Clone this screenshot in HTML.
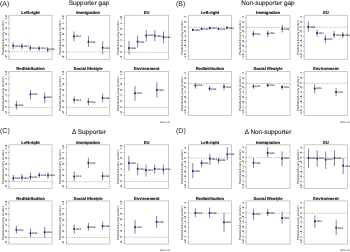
<!DOCTYPE html><html><head><meta charset="utf-8"><style>html,body{margin:0;padding:0;background:#fff;width:350px;height:252px;overflow:hidden}svg{display:block;will-change:transform}text{font-family:"Liberation Sans", sans-serif;text-rendering:geometricPrecision}</style></head><body>
<svg width="350" height="252" viewBox="0 0 350 252">
<rect x="0" y="0" width="350" height="252" fill="#fff"/>
<text x="0.00" y="6.00" font-size="7.0" fill="#222">(A)</text>
<text x="89.00" y="4.90" font-size="6.4" fill="#222" stroke="#222" stroke-width="0.1" text-anchor="middle">Supporter gap</text>
<text x="170.20" y="122.50" font-size="2.7" fill="#3a3a3a" text-anchor="end">95% CIs</text>
<text x="30.55" y="14.10" font-size="4.2" font-weight="bold" fill="#111" stroke="#111" stroke-width="0.12" text-anchor="middle">Left-right</text>
<rect x="9.00" y="15.30" width="43.10" height="44.00" fill="none" stroke="#bdbdbd" stroke-width="0.8"/>
<line x1="9.00" x2="52.10" y1="51.70" y2="51.70" stroke="#999" stroke-width="0.7" stroke-dasharray="1.25,1.25"/>
<line x1="8.10" x2="9.20" y1="17.10" y2="17.10" stroke="#666" stroke-width="0.55"/>
<text transform="translate(6.80,17.10) rotate(-90)" font-size="2.9" fill="#333" font-weight="bold" text-anchor="middle">1.2</text>
<line x1="8.10" x2="9.20" y1="22.80" y2="22.80" stroke="#666" stroke-width="0.55"/>
<text transform="translate(6.80,22.80) rotate(-90)" font-size="2.9" fill="#333" font-weight="bold" text-anchor="middle">1</text>
<line x1="8.10" x2="9.20" y1="28.50" y2="28.50" stroke="#666" stroke-width="0.55"/>
<text transform="translate(6.80,28.50) rotate(-90)" font-size="2.9" fill="#333" font-weight="bold" text-anchor="middle">.8</text>
<line x1="8.10" x2="9.20" y1="34.20" y2="34.20" stroke="#666" stroke-width="0.55"/>
<text transform="translate(6.80,34.20) rotate(-90)" font-size="2.9" fill="#333" font-weight="bold" text-anchor="middle">.6</text>
<line x1="8.10" x2="9.20" y1="39.90" y2="39.90" stroke="#666" stroke-width="0.55"/>
<text transform="translate(6.80,39.90) rotate(-90)" font-size="2.9" fill="#333" font-weight="bold" text-anchor="middle">.4</text>
<line x1="8.10" x2="9.20" y1="45.60" y2="45.60" stroke="#666" stroke-width="0.55"/>
<text transform="translate(6.80,45.60) rotate(-90)" font-size="2.9" fill="#333" font-weight="bold" text-anchor="middle">.2</text>
<line x1="8.10" x2="9.20" y1="51.30" y2="51.30" stroke="#666" stroke-width="0.55"/>
<text transform="translate(6.80,51.30) rotate(-90)" font-size="2.9" fill="#333" font-weight="bold" text-anchor="middle">0</text>
<line x1="8.10" x2="9.20" y1="57.00" y2="57.00" stroke="#666" stroke-width="0.55"/>
<text transform="translate(6.80,57.00) rotate(-90)" font-size="2.9" fill="#333" font-weight="bold" text-anchor="middle">-.2</text>
<text transform="translate(3.65,37.70) rotate(-90)" font-size="3.05" fill="#333" text-anchor="middle">Predicted Δ party position</text>
<line x1="13.20" x2="13.20" y1="42.25" y2="49.25" stroke="#66667f" stroke-width="0.8"/>
<rect x="12.32" y="44.88" width="1.75" height="1.75" fill="#14149a"/>
<text x="14.70" y="46.60" font-size="2.4" fill="#333" font-weight="bold">2009</text>
<line x1="21.90" x2="21.90" y1="43.25" y2="49.25" stroke="#66667f" stroke-width="0.8"/>
<rect x="21.02" y="45.38" width="1.75" height="1.75" fill="#14149a"/>
<text x="23.40" y="47.10" font-size="2.4" fill="#333" font-weight="bold">2010</text>
<line x1="30.40" x2="30.40" y1="45.25" y2="50.75" stroke="#66667f" stroke-width="0.8"/>
<rect x="29.52" y="47.08" width="1.75" height="1.75" fill="#14149a"/>
<text x="31.90" y="48.80" font-size="2.4" fill="#333" font-weight="bold">2013</text>
<line x1="39.00" x2="39.00" y1="45.75" y2="50.75" stroke="#66667f" stroke-width="0.8"/>
<rect x="38.12" y="47.48" width="1.75" height="1.75" fill="#14149a"/>
<text x="40.50" y="49.20" font-size="2.4" fill="#333" font-weight="bold">2014</text>
<line x1="47.70" x2="47.70" y1="46.75" y2="52.25" stroke="#66667f" stroke-width="0.8"/>
<rect x="46.83" y="48.58" width="1.75" height="1.75" fill="#14149a"/>
<text x="49.20" y="50.30" font-size="2.4" fill="#333" font-weight="bold">2016</text>
<text x="88.15" y="14.10" font-size="4.2" font-weight="bold" fill="#111" stroke="#111" stroke-width="0.12" text-anchor="middle">Immigration</text>
<rect x="66.50" y="15.30" width="43.30" height="44.00" fill="none" stroke="#bdbdbd" stroke-width="0.8"/>
<line x1="66.50" x2="109.80" y1="52.00" y2="52.00" stroke="#999" stroke-width="0.7" stroke-dasharray="1.25,1.25"/>
<line x1="65.60" x2="66.70" y1="17.40" y2="17.40" stroke="#666" stroke-width="0.55"/>
<text transform="translate(64.30,17.40) rotate(-90)" font-size="2.9" fill="#333" font-weight="bold" text-anchor="middle">1.2</text>
<line x1="65.60" x2="66.70" y1="23.10" y2="23.10" stroke="#666" stroke-width="0.55"/>
<text transform="translate(64.30,23.10) rotate(-90)" font-size="2.9" fill="#333" font-weight="bold" text-anchor="middle">1</text>
<line x1="65.60" x2="66.70" y1="28.80" y2="28.80" stroke="#666" stroke-width="0.55"/>
<text transform="translate(64.30,28.80) rotate(-90)" font-size="2.9" fill="#333" font-weight="bold" text-anchor="middle">.8</text>
<line x1="65.60" x2="66.70" y1="34.50" y2="34.50" stroke="#666" stroke-width="0.55"/>
<text transform="translate(64.30,34.50) rotate(-90)" font-size="2.9" fill="#333" font-weight="bold" text-anchor="middle">.6</text>
<line x1="65.60" x2="66.70" y1="40.20" y2="40.20" stroke="#666" stroke-width="0.55"/>
<text transform="translate(64.30,40.20) rotate(-90)" font-size="2.9" fill="#333" font-weight="bold" text-anchor="middle">.4</text>
<line x1="65.60" x2="66.70" y1="45.90" y2="45.90" stroke="#666" stroke-width="0.55"/>
<text transform="translate(64.30,45.90) rotate(-90)" font-size="2.9" fill="#333" font-weight="bold" text-anchor="middle">.2</text>
<line x1="65.60" x2="66.70" y1="51.60" y2="51.60" stroke="#666" stroke-width="0.55"/>
<text transform="translate(64.30,51.60) rotate(-90)" font-size="2.9" fill="#333" font-weight="bold" text-anchor="middle">0</text>
<line x1="65.60" x2="66.70" y1="57.30" y2="57.30" stroke="#666" stroke-width="0.55"/>
<text transform="translate(64.30,57.30) rotate(-90)" font-size="2.9" fill="#333" font-weight="bold" text-anchor="middle">-.2</text>
<text transform="translate(61.15,37.70) rotate(-90)" font-size="3.05" fill="#333" text-anchor="middle">Predicted Δ party position</text>
<line x1="74.00" x2="74.00" y1="31.45" y2="41.25" stroke="#66667f" stroke-width="0.8"/>
<rect x="73.12" y="35.58" width="1.75" height="1.75" fill="#14149a"/>
<text x="75.50" y="37.30" font-size="2.4" fill="#333" font-weight="bold">2014</text>
<line x1="88.50" x2="88.50" y1="36.25" y2="46.75" stroke="#66667f" stroke-width="0.8"/>
<rect x="87.62" y="40.88" width="1.75" height="1.75" fill="#14149a"/>
<text x="90.00" y="42.60" font-size="2.4" fill="#333" font-weight="bold">2016</text>
<line x1="102.70" x2="102.70" y1="41.25" y2="54.25" stroke="#66667f" stroke-width="0.8"/>
<rect x="101.83" y="46.88" width="1.75" height="1.75" fill="#14149a"/>
<text x="104.20" y="48.60" font-size="2.4" fill="#333" font-weight="bold">2018</text>
<text x="146.60" y="14.10" font-size="4.2" font-weight="bold" fill="#111" stroke="#111" stroke-width="0.12" text-anchor="middle">EU</text>
<rect x="124.60" y="15.30" width="44.00" height="44.00" fill="none" stroke="#bdbdbd" stroke-width="0.8"/>
<line x1="124.60" x2="168.60" y1="52.40" y2="52.40" stroke="#999" stroke-width="0.7" stroke-dasharray="1.25,1.25"/>
<line x1="123.70" x2="124.80" y1="17.80" y2="17.80" stroke="#666" stroke-width="0.55"/>
<text transform="translate(122.40,17.80) rotate(-90)" font-size="2.9" fill="#333" font-weight="bold" text-anchor="middle">1.2</text>
<line x1="123.70" x2="124.80" y1="23.50" y2="23.50" stroke="#666" stroke-width="0.55"/>
<text transform="translate(122.40,23.50) rotate(-90)" font-size="2.9" fill="#333" font-weight="bold" text-anchor="middle">1</text>
<line x1="123.70" x2="124.80" y1="29.20" y2="29.20" stroke="#666" stroke-width="0.55"/>
<text transform="translate(122.40,29.20) rotate(-90)" font-size="2.9" fill="#333" font-weight="bold" text-anchor="middle">.8</text>
<line x1="123.70" x2="124.80" y1="34.90" y2="34.90" stroke="#666" stroke-width="0.55"/>
<text transform="translate(122.40,34.90) rotate(-90)" font-size="2.9" fill="#333" font-weight="bold" text-anchor="middle">.6</text>
<line x1="123.70" x2="124.80" y1="40.60" y2="40.60" stroke="#666" stroke-width="0.55"/>
<text transform="translate(122.40,40.60) rotate(-90)" font-size="2.9" fill="#333" font-weight="bold" text-anchor="middle">.4</text>
<line x1="123.70" x2="124.80" y1="46.30" y2="46.30" stroke="#666" stroke-width="0.55"/>
<text transform="translate(122.40,46.30) rotate(-90)" font-size="2.9" fill="#333" font-weight="bold" text-anchor="middle">.2</text>
<line x1="123.70" x2="124.80" y1="52.00" y2="52.00" stroke="#666" stroke-width="0.55"/>
<text transform="translate(122.40,52.00) rotate(-90)" font-size="2.9" fill="#333" font-weight="bold" text-anchor="middle">0</text>
<line x1="123.70" x2="124.80" y1="57.70" y2="57.70" stroke="#666" stroke-width="0.55"/>
<text transform="translate(122.40,57.70) rotate(-90)" font-size="2.9" fill="#333" font-weight="bold" text-anchor="middle">-.2</text>
<text transform="translate(119.25,37.70) rotate(-90)" font-size="3.05" fill="#333" text-anchor="middle">Predicted Δ party position</text>
<line x1="129.00" x2="129.00" y1="40.85" y2="54.65" stroke="#66667f" stroke-width="0.8"/>
<rect x="128.12" y="47.17" width="1.75" height="1.75" fill="#14149a"/>
<text x="130.50" y="48.90" font-size="2.4" fill="#333" font-weight="bold">2009</text>
<line x1="137.60" x2="137.60" y1="35.45" y2="47.45" stroke="#66667f" stroke-width="0.8"/>
<rect x="136.72" y="40.77" width="1.75" height="1.75" fill="#14149a"/>
<text x="139.10" y="42.50" font-size="2.4" fill="#333" font-weight="bold">2010</text>
<line x1="146.30" x2="146.30" y1="29.85" y2="41.25" stroke="#66667f" stroke-width="0.8"/>
<rect x="145.43" y="34.58" width="1.75" height="1.75" fill="#14149a"/>
<text x="147.80" y="36.30" font-size="2.4" fill="#333" font-weight="bold">2013</text>
<line x1="154.80" x2="154.80" y1="30.25" y2="41.25" stroke="#66667f" stroke-width="0.8"/>
<rect x="153.93" y="34.77" width="1.75" height="1.75" fill="#14149a"/>
<text x="156.30" y="36.50" font-size="2.4" fill="#333" font-weight="bold">2014</text>
<line x1="163.50" x2="163.50" y1="31.55" y2="43.25" stroke="#66667f" stroke-width="0.8"/>
<rect x="162.62" y="36.27" width="1.75" height="1.75" fill="#14149a"/>
<text x="165.00" y="38.00" font-size="2.4" fill="#333" font-weight="bold">2016</text>
<text x="30.55" y="70.40" font-size="4.2" font-weight="bold" fill="#111" stroke="#111" stroke-width="0.12" text-anchor="middle">Redistribution</text>
<rect x="9.00" y="71.60" width="43.10" height="43.80" fill="none" stroke="#bdbdbd" stroke-width="0.8"/>
<line x1="9.00" x2="52.10" y1="107.50" y2="107.50" stroke="#999" stroke-width="0.7" stroke-dasharray="1.25,1.25"/>
<line x1="8.10" x2="9.20" y1="72.90" y2="72.90" stroke="#666" stroke-width="0.55"/>
<text transform="translate(6.80,72.90) rotate(-90)" font-size="2.9" fill="#333" font-weight="bold" text-anchor="middle">1.2</text>
<line x1="8.10" x2="9.20" y1="78.60" y2="78.60" stroke="#666" stroke-width="0.55"/>
<text transform="translate(6.80,78.60) rotate(-90)" font-size="2.9" fill="#333" font-weight="bold" text-anchor="middle">1</text>
<line x1="8.10" x2="9.20" y1="84.30" y2="84.30" stroke="#666" stroke-width="0.55"/>
<text transform="translate(6.80,84.30) rotate(-90)" font-size="2.9" fill="#333" font-weight="bold" text-anchor="middle">.8</text>
<line x1="8.10" x2="9.20" y1="90.00" y2="90.00" stroke="#666" stroke-width="0.55"/>
<text transform="translate(6.80,90.00) rotate(-90)" font-size="2.9" fill="#333" font-weight="bold" text-anchor="middle">.6</text>
<line x1="8.10" x2="9.20" y1="95.70" y2="95.70" stroke="#666" stroke-width="0.55"/>
<text transform="translate(6.80,95.70) rotate(-90)" font-size="2.9" fill="#333" font-weight="bold" text-anchor="middle">.4</text>
<line x1="8.10" x2="9.20" y1="101.40" y2="101.40" stroke="#666" stroke-width="0.55"/>
<text transform="translate(6.80,101.40) rotate(-90)" font-size="2.9" fill="#333" font-weight="bold" text-anchor="middle">.2</text>
<line x1="8.10" x2="9.20" y1="107.10" y2="107.10" stroke="#666" stroke-width="0.55"/>
<text transform="translate(6.80,107.10) rotate(-90)" font-size="2.9" fill="#333" font-weight="bold" text-anchor="middle">0</text>
<line x1="8.10" x2="9.20" y1="112.80" y2="112.80" stroke="#666" stroke-width="0.55"/>
<text transform="translate(6.80,112.80) rotate(-90)" font-size="2.9" fill="#333" font-weight="bold" text-anchor="middle">-.2</text>
<text transform="translate(3.65,93.90) rotate(-90)" font-size="3.05" fill="#333" text-anchor="middle">Predicted Δ party position</text>
<line x1="16.40" x2="16.40" y1="100.85" y2="109.55" stroke="#66667f" stroke-width="0.8"/>
<rect x="15.52" y="104.38" width="1.75" height="1.75" fill="#14149a"/>
<text x="17.90" y="106.10" font-size="2.4" fill="#333" font-weight="bold">2014</text>
<line x1="30.50" x2="30.50" y1="89.95" y2="99.05" stroke="#66667f" stroke-width="0.8"/>
<rect x="29.62" y="93.38" width="1.75" height="1.75" fill="#14149a"/>
<text x="32.00" y="95.10" font-size="2.4" fill="#333" font-weight="bold">2016</text>
<line x1="44.70" x2="44.70" y1="92.55" y2="103.05" stroke="#66667f" stroke-width="0.8"/>
<rect x="43.83" y="96.67" width="1.75" height="1.75" fill="#14149a"/>
<text x="46.20" y="98.40" font-size="2.4" fill="#333" font-weight="bold">2018</text>
<text x="88.15" y="70.40" font-size="4.2" font-weight="bold" fill="#111" stroke="#111" stroke-width="0.12" text-anchor="middle">Social lifestyle</text>
<rect x="66.50" y="71.60" width="43.30" height="43.80" fill="none" stroke="#bdbdbd" stroke-width="0.8"/>
<line x1="66.50" x2="109.80" y1="107.50" y2="107.50" stroke="#999" stroke-width="0.7" stroke-dasharray="1.25,1.25"/>
<line x1="65.60" x2="66.70" y1="72.90" y2="72.90" stroke="#666" stroke-width="0.55"/>
<text transform="translate(64.30,72.90) rotate(-90)" font-size="2.9" fill="#333" font-weight="bold" text-anchor="middle">1.2</text>
<line x1="65.60" x2="66.70" y1="78.60" y2="78.60" stroke="#666" stroke-width="0.55"/>
<text transform="translate(64.30,78.60) rotate(-90)" font-size="2.9" fill="#333" font-weight="bold" text-anchor="middle">1</text>
<line x1="65.60" x2="66.70" y1="84.30" y2="84.30" stroke="#666" stroke-width="0.55"/>
<text transform="translate(64.30,84.30) rotate(-90)" font-size="2.9" fill="#333" font-weight="bold" text-anchor="middle">.8</text>
<line x1="65.60" x2="66.70" y1="90.00" y2="90.00" stroke="#666" stroke-width="0.55"/>
<text transform="translate(64.30,90.00) rotate(-90)" font-size="2.9" fill="#333" font-weight="bold" text-anchor="middle">.6</text>
<line x1="65.60" x2="66.70" y1="95.70" y2="95.70" stroke="#666" stroke-width="0.55"/>
<text transform="translate(64.30,95.70) rotate(-90)" font-size="2.9" fill="#333" font-weight="bold" text-anchor="middle">.4</text>
<line x1="65.60" x2="66.70" y1="101.40" y2="101.40" stroke="#666" stroke-width="0.55"/>
<text transform="translate(64.30,101.40) rotate(-90)" font-size="2.9" fill="#333" font-weight="bold" text-anchor="middle">.2</text>
<line x1="65.60" x2="66.70" y1="107.10" y2="107.10" stroke="#666" stroke-width="0.55"/>
<text transform="translate(64.30,107.10) rotate(-90)" font-size="2.9" fill="#333" font-weight="bold" text-anchor="middle">0</text>
<line x1="65.60" x2="66.70" y1="112.80" y2="112.80" stroke="#666" stroke-width="0.55"/>
<text transform="translate(64.30,112.80) rotate(-90)" font-size="2.9" fill="#333" font-weight="bold" text-anchor="middle">-.2</text>
<text transform="translate(61.15,93.90) rotate(-90)" font-size="3.05" fill="#333" text-anchor="middle">Predicted Δ party position</text>
<line x1="74.20" x2="74.20" y1="96.45" y2="103.45" stroke="#66667f" stroke-width="0.8"/>
<rect x="73.33" y="98.88" width="1.75" height="1.75" fill="#14149a"/>
<text x="75.70" y="100.60" font-size="2.4" fill="#333" font-weight="bold">2014</text>
<line x1="88.40" x2="88.40" y1="98.05" y2="105.65" stroke="#66667f" stroke-width="0.8"/>
<rect x="87.53" y="100.88" width="1.75" height="1.75" fill="#14149a"/>
<text x="89.90" y="102.60" font-size="2.4" fill="#333" font-weight="bold">2016</text>
<line x1="102.60" x2="102.60" y1="93.65" y2="102.35" stroke="#66667f" stroke-width="0.8"/>
<rect x="101.72" y="97.17" width="1.75" height="1.75" fill="#14149a"/>
<text x="104.10" y="98.90" font-size="2.4" fill="#333" font-weight="bold">2018</text>
<text x="146.60" y="70.40" font-size="4.2" font-weight="bold" fill="#111" stroke="#111" stroke-width="0.12" text-anchor="middle">Environment</text>
<rect x="124.60" y="71.60" width="44.00" height="43.80" fill="none" stroke="#bdbdbd" stroke-width="0.8"/>
<line x1="124.60" x2="168.60" y1="107.50" y2="107.50" stroke="#999" stroke-width="0.7" stroke-dasharray="1.25,1.25"/>
<line x1="123.70" x2="124.80" y1="72.90" y2="72.90" stroke="#666" stroke-width="0.55"/>
<text transform="translate(122.40,72.90) rotate(-90)" font-size="2.9" fill="#333" font-weight="bold" text-anchor="middle">1.2</text>
<line x1="123.70" x2="124.80" y1="78.60" y2="78.60" stroke="#666" stroke-width="0.55"/>
<text transform="translate(122.40,78.60) rotate(-90)" font-size="2.9" fill="#333" font-weight="bold" text-anchor="middle">1</text>
<line x1="123.70" x2="124.80" y1="84.30" y2="84.30" stroke="#666" stroke-width="0.55"/>
<text transform="translate(122.40,84.30) rotate(-90)" font-size="2.9" fill="#333" font-weight="bold" text-anchor="middle">.8</text>
<line x1="123.70" x2="124.80" y1="90.00" y2="90.00" stroke="#666" stroke-width="0.55"/>
<text transform="translate(122.40,90.00) rotate(-90)" font-size="2.9" fill="#333" font-weight="bold" text-anchor="middle">.6</text>
<line x1="123.70" x2="124.80" y1="95.70" y2="95.70" stroke="#666" stroke-width="0.55"/>
<text transform="translate(122.40,95.70) rotate(-90)" font-size="2.9" fill="#333" font-weight="bold" text-anchor="middle">.4</text>
<line x1="123.70" x2="124.80" y1="101.40" y2="101.40" stroke="#666" stroke-width="0.55"/>
<text transform="translate(122.40,101.40) rotate(-90)" font-size="2.9" fill="#333" font-weight="bold" text-anchor="middle">.2</text>
<line x1="123.70" x2="124.80" y1="107.10" y2="107.10" stroke="#666" stroke-width="0.55"/>
<text transform="translate(122.40,107.10) rotate(-90)" font-size="2.9" fill="#333" font-weight="bold" text-anchor="middle">0</text>
<line x1="123.70" x2="124.80" y1="112.80" y2="112.80" stroke="#666" stroke-width="0.55"/>
<text transform="translate(122.40,112.80) rotate(-90)" font-size="2.9" fill="#333" font-weight="bold" text-anchor="middle">-.2</text>
<text transform="translate(119.25,93.90) rotate(-90)" font-size="3.05" fill="#333" text-anchor="middle">Predicted Δ party position</text>
<line x1="135.00" x2="135.00" y1="85.95" y2="100.65" stroke="#66667f" stroke-width="0.8"/>
<rect x="134.12" y="92.38" width="1.75" height="1.75" fill="#14149a"/>
<text x="136.50" y="94.10" font-size="2.4" fill="#333" font-weight="bold">2016</text>
<line x1="156.90" x2="156.90" y1="82.25" y2="97.55" stroke="#66667f" stroke-width="0.8"/>
<rect x="156.03" y="89.08" width="1.75" height="1.75" fill="#14149a"/>
<text x="158.40" y="90.80" font-size="2.4" fill="#333" font-weight="bold">2018</text>
<text x="176.00" y="6.00" font-size="7.0" fill="#222">(B)</text>
<text x="268.00" y="4.90" font-size="6.4" fill="#222" stroke="#222" stroke-width="0.1" text-anchor="middle">Non-supporter gap</text>
<text x="350.50" y="122.50" font-size="2.7" fill="#3a3a3a" text-anchor="end">95% CIs</text>
<text x="210.00" y="14.10" font-size="4.2" font-weight="bold" fill="#111" stroke="#111" stroke-width="0.12" text-anchor="middle">Left-right</text>
<rect x="188.50" y="15.30" width="43.00" height="44.00" fill="none" stroke="#bdbdbd" stroke-width="0.8"/>
<line x1="188.50" x2="231.50" y1="27.30" y2="27.30" stroke="#999" stroke-width="0.7" stroke-dasharray="1.25,1.25"/>
<line x1="187.60" x2="188.70" y1="17.20" y2="17.20" stroke="#666" stroke-width="0.55"/>
<text transform="translate(186.30,17.20) rotate(-90)" font-size="2.9" fill="#333" font-weight="bold" text-anchor="middle">.4</text>
<line x1="187.60" x2="188.70" y1="22.05" y2="22.05" stroke="#666" stroke-width="0.55"/>
<text transform="translate(186.30,22.05) rotate(-90)" font-size="2.9" fill="#333" font-weight="bold" text-anchor="middle">.2</text>
<line x1="187.60" x2="188.70" y1="26.90" y2="26.90" stroke="#666" stroke-width="0.55"/>
<text transform="translate(186.30,26.90) rotate(-90)" font-size="2.9" fill="#333" font-weight="bold" text-anchor="middle">0</text>
<line x1="187.60" x2="188.70" y1="31.75" y2="31.75" stroke="#666" stroke-width="0.55"/>
<text transform="translate(186.30,31.75) rotate(-90)" font-size="2.9" fill="#333" font-weight="bold" text-anchor="middle">-.2</text>
<line x1="187.60" x2="188.70" y1="36.60" y2="36.60" stroke="#666" stroke-width="0.55"/>
<text transform="translate(186.30,36.60) rotate(-90)" font-size="2.9" fill="#333" font-weight="bold" text-anchor="middle">-.4</text>
<line x1="187.60" x2="188.70" y1="41.45" y2="41.45" stroke="#666" stroke-width="0.55"/>
<text transform="translate(186.30,41.45) rotate(-90)" font-size="2.9" fill="#333" font-weight="bold" text-anchor="middle">-.6</text>
<line x1="187.60" x2="188.70" y1="46.30" y2="46.30" stroke="#666" stroke-width="0.55"/>
<text transform="translate(186.30,46.30) rotate(-90)" font-size="2.9" fill="#333" font-weight="bold" text-anchor="middle">-.8</text>
<line x1="187.60" x2="188.70" y1="51.15" y2="51.15" stroke="#666" stroke-width="0.55"/>
<text transform="translate(186.30,51.15) rotate(-90)" font-size="2.9" fill="#333" font-weight="bold" text-anchor="middle">-1</text>
<line x1="187.60" x2="188.70" y1="56.00" y2="56.00" stroke="#666" stroke-width="0.55"/>
<text transform="translate(186.30,56.00) rotate(-90)" font-size="2.9" fill="#333" font-weight="bold" text-anchor="middle">-1.2</text>
<text transform="translate(183.15,37.70) rotate(-90)" font-size="3.05" fill="#333" text-anchor="middle">Predicted Δ party position</text>
<line x1="192.90" x2="192.90" y1="28.55" y2="31.15" stroke="#66667f" stroke-width="0.8"/>
<rect x="192.03" y="28.98" width="1.75" height="1.75" fill="#14149a"/>
<text x="194.40" y="30.70" font-size="2.4" fill="#333" font-weight="bold">2009</text>
<line x1="201.60" x2="201.60" y1="27.65" y2="30.05" stroke="#66667f" stroke-width="0.8"/>
<rect x="200.72" y="27.98" width="1.75" height="1.75" fill="#14149a"/>
<text x="203.10" y="29.70" font-size="2.4" fill="#333" font-weight="bold">2010</text>
<line x1="209.80" x2="209.80" y1="26.95" y2="29.35" stroke="#66667f" stroke-width="0.8"/>
<rect x="208.93" y="27.27" width="1.75" height="1.75" fill="#14149a"/>
<text x="211.30" y="29.00" font-size="2.4" fill="#333" font-weight="bold">2013</text>
<line x1="218.50" x2="218.50" y1="27.55" y2="30.15" stroke="#66667f" stroke-width="0.8"/>
<rect x="217.62" y="27.98" width="1.75" height="1.75" fill="#14149a"/>
<text x="220.00" y="29.70" font-size="2.4" fill="#333" font-weight="bold">2014</text>
<line x1="226.90" x2="226.90" y1="26.45" y2="29.05" stroke="#66667f" stroke-width="0.8"/>
<rect x="226.03" y="26.88" width="1.75" height="1.75" fill="#14149a"/>
<text x="228.40" y="28.60" font-size="2.4" fill="#333" font-weight="bold">2016</text>
<text x="268.05" y="14.10" font-size="4.2" font-weight="bold" fill="#111" stroke="#111" stroke-width="0.12" text-anchor="middle">Immigration</text>
<rect x="246.10" y="15.30" width="43.90" height="44.00" fill="none" stroke="#bdbdbd" stroke-width="0.8"/>
<line x1="246.10" x2="290.00" y1="27.50" y2="27.50" stroke="#999" stroke-width="0.7" stroke-dasharray="1.25,1.25"/>
<line x1="245.20" x2="246.30" y1="17.40" y2="17.40" stroke="#666" stroke-width="0.55"/>
<text transform="translate(243.90,17.40) rotate(-90)" font-size="2.9" fill="#333" font-weight="bold" text-anchor="middle">.4</text>
<line x1="245.20" x2="246.30" y1="22.25" y2="22.25" stroke="#666" stroke-width="0.55"/>
<text transform="translate(243.90,22.25) rotate(-90)" font-size="2.9" fill="#333" font-weight="bold" text-anchor="middle">.2</text>
<line x1="245.20" x2="246.30" y1="27.10" y2="27.10" stroke="#666" stroke-width="0.55"/>
<text transform="translate(243.90,27.10) rotate(-90)" font-size="2.9" fill="#333" font-weight="bold" text-anchor="middle">0</text>
<line x1="245.20" x2="246.30" y1="31.95" y2="31.95" stroke="#666" stroke-width="0.55"/>
<text transform="translate(243.90,31.95) rotate(-90)" font-size="2.9" fill="#333" font-weight="bold" text-anchor="middle">-.2</text>
<line x1="245.20" x2="246.30" y1="36.80" y2="36.80" stroke="#666" stroke-width="0.55"/>
<text transform="translate(243.90,36.80) rotate(-90)" font-size="2.9" fill="#333" font-weight="bold" text-anchor="middle">-.4</text>
<line x1="245.20" x2="246.30" y1="41.65" y2="41.65" stroke="#666" stroke-width="0.55"/>
<text transform="translate(243.90,41.65) rotate(-90)" font-size="2.9" fill="#333" font-weight="bold" text-anchor="middle">-.6</text>
<line x1="245.20" x2="246.30" y1="46.50" y2="46.50" stroke="#666" stroke-width="0.55"/>
<text transform="translate(243.90,46.50) rotate(-90)" font-size="2.9" fill="#333" font-weight="bold" text-anchor="middle">-.8</text>
<line x1="245.20" x2="246.30" y1="51.35" y2="51.35" stroke="#666" stroke-width="0.55"/>
<text transform="translate(243.90,51.35) rotate(-90)" font-size="2.9" fill="#333" font-weight="bold" text-anchor="middle">-1</text>
<line x1="245.20" x2="246.30" y1="56.20" y2="56.20" stroke="#666" stroke-width="0.55"/>
<text transform="translate(243.90,56.20) rotate(-90)" font-size="2.9" fill="#333" font-weight="bold" text-anchor="middle">-1.2</text>
<text transform="translate(240.75,37.70) rotate(-90)" font-size="3.05" fill="#333" text-anchor="middle">Predicted Δ party position</text>
<line x1="253.40" x2="253.40" y1="30.85" y2="37.05" stroke="#66667f" stroke-width="0.8"/>
<rect x="252.53" y="33.08" width="1.75" height="1.75" fill="#14149a"/>
<text x="254.90" y="34.80" font-size="2.4" fill="#333" font-weight="bold">2014</text>
<line x1="267.80" x2="267.80" y1="30.25" y2="37.05" stroke="#66667f" stroke-width="0.8"/>
<rect x="266.93" y="32.67" width="1.75" height="1.75" fill="#14149a"/>
<text x="269.30" y="34.40" font-size="2.4" fill="#333" font-weight="bold">2016</text>
<line x1="282.30" x2="282.30" y1="25.05" y2="32.55" stroke="#66667f" stroke-width="0.8"/>
<rect x="281.43" y="27.98" width="1.75" height="1.75" fill="#14149a"/>
<text x="283.80" y="29.70" font-size="2.4" fill="#333" font-weight="bold">2018</text>
<text x="325.80" y="14.10" font-size="4.2" font-weight="bold" fill="#111" stroke="#111" stroke-width="0.12" text-anchor="middle">EU</text>
<rect x="304.20" y="15.30" width="43.20" height="44.00" fill="none" stroke="#bdbdbd" stroke-width="0.8"/>
<line x1="304.20" x2="347.40" y1="27.30" y2="27.30" stroke="#999" stroke-width="0.7" stroke-dasharray="1.25,1.25"/>
<line x1="303.30" x2="304.40" y1="17.20" y2="17.20" stroke="#666" stroke-width="0.55"/>
<text transform="translate(302.00,17.20) rotate(-90)" font-size="2.9" fill="#333" font-weight="bold" text-anchor="middle">.4</text>
<line x1="303.30" x2="304.40" y1="22.05" y2="22.05" stroke="#666" stroke-width="0.55"/>
<text transform="translate(302.00,22.05) rotate(-90)" font-size="2.9" fill="#333" font-weight="bold" text-anchor="middle">.2</text>
<line x1="303.30" x2="304.40" y1="26.90" y2="26.90" stroke="#666" stroke-width="0.55"/>
<text transform="translate(302.00,26.90) rotate(-90)" font-size="2.9" fill="#333" font-weight="bold" text-anchor="middle">0</text>
<line x1="303.30" x2="304.40" y1="31.75" y2="31.75" stroke="#666" stroke-width="0.55"/>
<text transform="translate(302.00,31.75) rotate(-90)" font-size="2.9" fill="#333" font-weight="bold" text-anchor="middle">-.2</text>
<line x1="303.30" x2="304.40" y1="36.60" y2="36.60" stroke="#666" stroke-width="0.55"/>
<text transform="translate(302.00,36.60) rotate(-90)" font-size="2.9" fill="#333" font-weight="bold" text-anchor="middle">-.4</text>
<line x1="303.30" x2="304.40" y1="41.45" y2="41.45" stroke="#666" stroke-width="0.55"/>
<text transform="translate(302.00,41.45) rotate(-90)" font-size="2.9" fill="#333" font-weight="bold" text-anchor="middle">-.6</text>
<line x1="303.30" x2="304.40" y1="46.30" y2="46.30" stroke="#666" stroke-width="0.55"/>
<text transform="translate(302.00,46.30) rotate(-90)" font-size="2.9" fill="#333" font-weight="bold" text-anchor="middle">-.8</text>
<line x1="303.30" x2="304.40" y1="51.15" y2="51.15" stroke="#666" stroke-width="0.55"/>
<text transform="translate(302.00,51.15) rotate(-90)" font-size="2.9" fill="#333" font-weight="bold" text-anchor="middle">-1</text>
<line x1="303.30" x2="304.40" y1="56.00" y2="56.00" stroke="#666" stroke-width="0.55"/>
<text transform="translate(302.00,56.00) rotate(-90)" font-size="2.9" fill="#333" font-weight="bold" text-anchor="middle">-1.2</text>
<text transform="translate(298.85,37.70) rotate(-90)" font-size="3.05" fill="#333" text-anchor="middle">Predicted Δ party position</text>
<line x1="308.30" x2="308.30" y1="21.55" y2="31.55" stroke="#66667f" stroke-width="0.8"/>
<rect x="307.43" y="25.88" width="1.75" height="1.75" fill="#14149a"/>
<text x="309.80" y="27.60" font-size="2.4" fill="#333" font-weight="bold">2009</text>
<line x1="317.00" x2="317.00" y1="29.85" y2="36.65" stroke="#66667f" stroke-width="0.8"/>
<rect x="316.12" y="32.08" width="1.75" height="1.75" fill="#14149a"/>
<text x="318.50" y="33.80" font-size="2.4" fill="#333" font-weight="bold">2010</text>
<line x1="325.40" x2="325.40" y1="35.05" y2="43.25" stroke="#66667f" stroke-width="0.8"/>
<rect x="324.52" y="38.27" width="1.75" height="1.75" fill="#14149a"/>
<text x="326.90" y="40.00" font-size="2.4" fill="#333" font-weight="bold">2013</text>
<line x1="334.10" x2="334.10" y1="30.85" y2="38.15" stroke="#66667f" stroke-width="0.8"/>
<rect x="333.23" y="33.77" width="1.75" height="1.75" fill="#14149a"/>
<text x="335.60" y="35.50" font-size="2.4" fill="#333" font-weight="bold">2014</text>
<line x1="342.80" x2="342.80" y1="31.95" y2="38.15" stroke="#66667f" stroke-width="0.8"/>
<rect x="341.93" y="34.17" width="1.75" height="1.75" fill="#14149a"/>
<text x="344.30" y="35.90" font-size="2.4" fill="#333" font-weight="bold">2016</text>
<text x="210.00" y="70.40" font-size="4.2" font-weight="bold" fill="#111" stroke="#111" stroke-width="0.12" text-anchor="middle">Redistribution</text>
<rect x="188.50" y="71.60" width="43.00" height="43.80" fill="none" stroke="#bdbdbd" stroke-width="0.8"/>
<line x1="188.50" x2="231.50" y1="83.50" y2="83.50" stroke="#999" stroke-width="0.7" stroke-dasharray="1.25,1.25"/>
<line x1="187.60" x2="188.70" y1="73.40" y2="73.40" stroke="#666" stroke-width="0.55"/>
<text transform="translate(186.30,73.40) rotate(-90)" font-size="2.9" fill="#333" font-weight="bold" text-anchor="middle">.4</text>
<line x1="187.60" x2="188.70" y1="78.25" y2="78.25" stroke="#666" stroke-width="0.55"/>
<text transform="translate(186.30,78.25) rotate(-90)" font-size="2.9" fill="#333" font-weight="bold" text-anchor="middle">.2</text>
<line x1="187.60" x2="188.70" y1="83.10" y2="83.10" stroke="#666" stroke-width="0.55"/>
<text transform="translate(186.30,83.10) rotate(-90)" font-size="2.9" fill="#333" font-weight="bold" text-anchor="middle">0</text>
<line x1="187.60" x2="188.70" y1="87.95" y2="87.95" stroke="#666" stroke-width="0.55"/>
<text transform="translate(186.30,87.95) rotate(-90)" font-size="2.9" fill="#333" font-weight="bold" text-anchor="middle">-.2</text>
<line x1="187.60" x2="188.70" y1="92.80" y2="92.80" stroke="#666" stroke-width="0.55"/>
<text transform="translate(186.30,92.80) rotate(-90)" font-size="2.9" fill="#333" font-weight="bold" text-anchor="middle">-.4</text>
<line x1="187.60" x2="188.70" y1="97.65" y2="97.65" stroke="#666" stroke-width="0.55"/>
<text transform="translate(186.30,97.65) rotate(-90)" font-size="2.9" fill="#333" font-weight="bold" text-anchor="middle">-.6</text>
<line x1="187.60" x2="188.70" y1="102.50" y2="102.50" stroke="#666" stroke-width="0.55"/>
<text transform="translate(186.30,102.50) rotate(-90)" font-size="2.9" fill="#333" font-weight="bold" text-anchor="middle">-.8</text>
<line x1="187.60" x2="188.70" y1="107.35" y2="107.35" stroke="#666" stroke-width="0.55"/>
<text transform="translate(186.30,107.35) rotate(-90)" font-size="2.9" fill="#333" font-weight="bold" text-anchor="middle">-1</text>
<line x1="187.60" x2="188.70" y1="112.20" y2="112.20" stroke="#666" stroke-width="0.55"/>
<text transform="translate(186.30,112.20) rotate(-90)" font-size="2.9" fill="#333" font-weight="bold" text-anchor="middle">-1.2</text>
<text transform="translate(183.15,93.90) rotate(-90)" font-size="3.05" fill="#333" text-anchor="middle">Predicted Δ party position</text>
<line x1="195.40" x2="195.40" y1="82.75" y2="88.65" stroke="#66667f" stroke-width="0.8"/>
<rect x="194.53" y="84.67" width="1.75" height="1.75" fill="#14149a"/>
<text x="196.90" y="86.40" font-size="2.4" fill="#333" font-weight="bold">2014</text>
<line x1="209.60" x2="209.60" y1="85.95" y2="90.75" stroke="#66667f" stroke-width="0.8"/>
<rect x="208.72" y="87.78" width="1.75" height="1.75" fill="#14149a"/>
<text x="211.10" y="89.50" font-size="2.4" fill="#333" font-weight="bold">2016</text>
<line x1="224.00" x2="224.00" y1="83.85" y2="89.95" stroke="#66667f" stroke-width="0.8"/>
<rect x="223.12" y="85.78" width="1.75" height="1.75" fill="#14149a"/>
<text x="225.50" y="87.50" font-size="2.4" fill="#333" font-weight="bold">2018</text>
<text x="268.05" y="70.40" font-size="4.2" font-weight="bold" fill="#111" stroke="#111" stroke-width="0.12" text-anchor="middle">Social lifestyle</text>
<rect x="246.10" y="71.60" width="43.90" height="43.80" fill="none" stroke="#bdbdbd" stroke-width="0.8"/>
<line x1="246.10" x2="290.00" y1="83.50" y2="83.50" stroke="#999" stroke-width="0.7" stroke-dasharray="1.25,1.25"/>
<line x1="245.20" x2="246.30" y1="73.40" y2="73.40" stroke="#666" stroke-width="0.55"/>
<text transform="translate(243.90,73.40) rotate(-90)" font-size="2.9" fill="#333" font-weight="bold" text-anchor="middle">.4</text>
<line x1="245.20" x2="246.30" y1="78.25" y2="78.25" stroke="#666" stroke-width="0.55"/>
<text transform="translate(243.90,78.25) rotate(-90)" font-size="2.9" fill="#333" font-weight="bold" text-anchor="middle">.2</text>
<line x1="245.20" x2="246.30" y1="83.10" y2="83.10" stroke="#666" stroke-width="0.55"/>
<text transform="translate(243.90,83.10) rotate(-90)" font-size="2.9" fill="#333" font-weight="bold" text-anchor="middle">0</text>
<line x1="245.20" x2="246.30" y1="87.95" y2="87.95" stroke="#666" stroke-width="0.55"/>
<text transform="translate(243.90,87.95) rotate(-90)" font-size="2.9" fill="#333" font-weight="bold" text-anchor="middle">-.2</text>
<line x1="245.20" x2="246.30" y1="92.80" y2="92.80" stroke="#666" stroke-width="0.55"/>
<text transform="translate(243.90,92.80) rotate(-90)" font-size="2.9" fill="#333" font-weight="bold" text-anchor="middle">-.4</text>
<line x1="245.20" x2="246.30" y1="97.65" y2="97.65" stroke="#666" stroke-width="0.55"/>
<text transform="translate(243.90,97.65) rotate(-90)" font-size="2.9" fill="#333" font-weight="bold" text-anchor="middle">-.6</text>
<line x1="245.20" x2="246.30" y1="102.50" y2="102.50" stroke="#666" stroke-width="0.55"/>
<text transform="translate(243.90,102.50) rotate(-90)" font-size="2.9" fill="#333" font-weight="bold" text-anchor="middle">-.8</text>
<line x1="245.20" x2="246.30" y1="107.35" y2="107.35" stroke="#666" stroke-width="0.55"/>
<text transform="translate(243.90,107.35) rotate(-90)" font-size="2.9" fill="#333" font-weight="bold" text-anchor="middle">-1</text>
<line x1="245.20" x2="246.30" y1="112.20" y2="112.20" stroke="#666" stroke-width="0.55"/>
<text transform="translate(243.90,112.20) rotate(-90)" font-size="2.9" fill="#333" font-weight="bold" text-anchor="middle">-1.2</text>
<text transform="translate(240.75,93.90) rotate(-90)" font-size="3.05" fill="#333" text-anchor="middle">Predicted Δ party position</text>
<line x1="253.50" x2="253.50" y1="84.25" y2="88.65" stroke="#66667f" stroke-width="0.8"/>
<rect x="252.62" y="85.58" width="1.75" height="1.75" fill="#14149a"/>
<text x="255.00" y="87.30" font-size="2.4" fill="#333" font-weight="bold">2014</text>
<line x1="267.70" x2="267.70" y1="83.15" y2="87.05" stroke="#66667f" stroke-width="0.8"/>
<rect x="266.82" y="84.47" width="1.75" height="1.75" fill="#14149a"/>
<text x="269.20" y="86.20" font-size="2.4" fill="#333" font-weight="bold">2016</text>
<line x1="282.10" x2="282.10" y1="84.95" y2="89.75" stroke="#66667f" stroke-width="0.8"/>
<rect x="281.23" y="86.17" width="1.75" height="1.75" fill="#14149a"/>
<text x="283.60" y="87.90" font-size="2.4" fill="#333" font-weight="bold">2018</text>
<text x="325.80" y="70.40" font-size="4.2" font-weight="bold" fill="#111" stroke="#111" stroke-width="0.12" text-anchor="middle">Environment</text>
<rect x="304.20" y="71.60" width="43.20" height="43.80" fill="none" stroke="#bdbdbd" stroke-width="0.8"/>
<line x1="304.20" x2="347.40" y1="83.30" y2="83.30" stroke="#999" stroke-width="0.7" stroke-dasharray="1.25,1.25"/>
<line x1="303.30" x2="304.40" y1="73.20" y2="73.20" stroke="#666" stroke-width="0.55"/>
<text transform="translate(302.00,73.20) rotate(-90)" font-size="2.9" fill="#333" font-weight="bold" text-anchor="middle">.4</text>
<line x1="303.30" x2="304.40" y1="78.05" y2="78.05" stroke="#666" stroke-width="0.55"/>
<text transform="translate(302.00,78.05) rotate(-90)" font-size="2.9" fill="#333" font-weight="bold" text-anchor="middle">.2</text>
<line x1="303.30" x2="304.40" y1="82.90" y2="82.90" stroke="#666" stroke-width="0.55"/>
<text transform="translate(302.00,82.90) rotate(-90)" font-size="2.9" fill="#333" font-weight="bold" text-anchor="middle">0</text>
<line x1="303.30" x2="304.40" y1="87.75" y2="87.75" stroke="#666" stroke-width="0.55"/>
<text transform="translate(302.00,87.75) rotate(-90)" font-size="2.9" fill="#333" font-weight="bold" text-anchor="middle">-.2</text>
<line x1="303.30" x2="304.40" y1="92.60" y2="92.60" stroke="#666" stroke-width="0.55"/>
<text transform="translate(302.00,92.60) rotate(-90)" font-size="2.9" fill="#333" font-weight="bold" text-anchor="middle">-.4</text>
<line x1="303.30" x2="304.40" y1="97.45" y2="97.45" stroke="#666" stroke-width="0.55"/>
<text transform="translate(302.00,97.45) rotate(-90)" font-size="2.9" fill="#333" font-weight="bold" text-anchor="middle">-.6</text>
<line x1="303.30" x2="304.40" y1="102.30" y2="102.30" stroke="#666" stroke-width="0.55"/>
<text transform="translate(302.00,102.30) rotate(-90)" font-size="2.9" fill="#333" font-weight="bold" text-anchor="middle">-.8</text>
<line x1="303.30" x2="304.40" y1="107.15" y2="107.15" stroke="#666" stroke-width="0.55"/>
<text transform="translate(302.00,107.15) rotate(-90)" font-size="2.9" fill="#333" font-weight="bold" text-anchor="middle">-1</text>
<line x1="303.30" x2="304.40" y1="112.00" y2="112.00" stroke="#666" stroke-width="0.55"/>
<text transform="translate(302.00,112.00) rotate(-90)" font-size="2.9" fill="#333" font-weight="bold" text-anchor="middle">-1.2</text>
<text transform="translate(298.85,93.90) rotate(-90)" font-size="3.05" fill="#333" text-anchor="middle">Predicted Δ party position</text>
<line x1="314.70" x2="314.70" y1="84.25" y2="93.35" stroke="#66667f" stroke-width="0.8"/>
<rect x="313.82" y="87.67" width="1.75" height="1.75" fill="#14149a"/>
<text x="316.20" y="89.40" font-size="2.4" fill="#333" font-weight="bold">2016</text>
<line x1="336.10" x2="336.10" y1="87.85" y2="96.25" stroke="#66667f" stroke-width="0.8"/>
<rect x="335.23" y="91.08" width="1.75" height="1.75" fill="#14149a"/>
<text x="337.60" y="92.80" font-size="2.4" fill="#333" font-weight="bold">2018</text>
<text x="0.00" y="132.80" font-size="7.0" fill="#222">(C)</text>
<text x="89.00" y="134.30" font-size="6.4" fill="#222" stroke="#222" stroke-width="0.1" text-anchor="middle">Δ Supporter</text>
<text x="170.20" y="251.20" font-size="2.7" fill="#3a3a3a" text-anchor="end">95% CIs</text>
<text x="30.55" y="143.60" font-size="4.2" font-weight="bold" fill="#111" stroke="#111" stroke-width="0.12" text-anchor="middle">Left-right</text>
<rect x="9.00" y="144.80" width="43.10" height="43.50" fill="none" stroke="#bdbdbd" stroke-width="0.8"/>
<line x1="9.00" x2="52.10" y1="181.50" y2="181.50" stroke="#999" stroke-width="0.7" stroke-dasharray="1.25,1.25"/>
<line x1="8.10" x2="9.20" y1="146.90" y2="146.90" stroke="#666" stroke-width="0.55"/>
<text transform="translate(6.80,146.90) rotate(-90)" font-size="2.9" fill="#333" font-weight="bold" text-anchor="middle">1.2</text>
<line x1="8.10" x2="9.20" y1="152.60" y2="152.60" stroke="#666" stroke-width="0.55"/>
<text transform="translate(6.80,152.60) rotate(-90)" font-size="2.9" fill="#333" font-weight="bold" text-anchor="middle">1</text>
<line x1="8.10" x2="9.20" y1="158.30" y2="158.30" stroke="#666" stroke-width="0.55"/>
<text transform="translate(6.80,158.30) rotate(-90)" font-size="2.9" fill="#333" font-weight="bold" text-anchor="middle">.8</text>
<line x1="8.10" x2="9.20" y1="164.00" y2="164.00" stroke="#666" stroke-width="0.55"/>
<text transform="translate(6.80,164.00) rotate(-90)" font-size="2.9" fill="#333" font-weight="bold" text-anchor="middle">.6</text>
<line x1="8.10" x2="9.20" y1="169.70" y2="169.70" stroke="#666" stroke-width="0.55"/>
<text transform="translate(6.80,169.70) rotate(-90)" font-size="2.9" fill="#333" font-weight="bold" text-anchor="middle">.4</text>
<line x1="8.10" x2="9.20" y1="175.40" y2="175.40" stroke="#666" stroke-width="0.55"/>
<text transform="translate(6.80,175.40) rotate(-90)" font-size="2.9" fill="#333" font-weight="bold" text-anchor="middle">.2</text>
<line x1="8.10" x2="9.20" y1="181.10" y2="181.10" stroke="#666" stroke-width="0.55"/>
<text transform="translate(6.80,181.10) rotate(-90)" font-size="2.9" fill="#333" font-weight="bold" text-anchor="middle">0</text>
<line x1="8.10" x2="9.20" y1="186.80" y2="186.80" stroke="#666" stroke-width="0.55"/>
<text transform="translate(6.80,186.80) rotate(-90)" font-size="2.9" fill="#333" font-weight="bold" text-anchor="middle">-.2</text>
<text transform="translate(3.65,166.95) rotate(-90)" font-size="3.05" fill="#333" text-anchor="middle">Predicted Δ party position</text>
<line x1="13.30" x2="13.30" y1="174.85" y2="181.55" stroke="#66667f" stroke-width="0.8"/>
<rect x="12.43" y="177.38" width="1.75" height="1.75" fill="#14149a"/>
<text x="14.80" y="179.10" font-size="2.4" fill="#333" font-weight="bold">2009</text>
<line x1="22.00" x2="22.00" y1="173.95" y2="180.45" stroke="#66667f" stroke-width="0.8"/>
<rect x="21.12" y="176.78" width="1.75" height="1.75" fill="#14149a"/>
<text x="23.50" y="178.50" font-size="2.4" fill="#333" font-weight="bold">2010</text>
<line x1="30.50" x2="30.50" y1="172.85" y2="180.25" stroke="#66667f" stroke-width="0.8"/>
<rect x="29.62" y="176.07" width="1.75" height="1.75" fill="#14149a"/>
<text x="32.00" y="177.80" font-size="2.4" fill="#333" font-weight="bold">2013</text>
<line x1="39.30" x2="39.30" y1="172.25" y2="177.65" stroke="#66667f" stroke-width="0.8"/>
<rect x="38.42" y="174.18" width="1.75" height="1.75" fill="#14149a"/>
<text x="40.80" y="175.90" font-size="2.4" fill="#333" font-weight="bold">2014</text>
<line x1="48.00" x2="48.00" y1="172.25" y2="178.75" stroke="#66667f" stroke-width="0.8"/>
<rect x="47.12" y="174.57" width="1.75" height="1.75" fill="#14149a"/>
<text x="49.50" y="176.30" font-size="2.4" fill="#333" font-weight="bold">2016</text>
<text x="88.15" y="143.60" font-size="4.2" font-weight="bold" fill="#111" stroke="#111" stroke-width="0.12" text-anchor="middle">Immigration</text>
<rect x="66.50" y="144.80" width="43.30" height="43.50" fill="none" stroke="#bdbdbd" stroke-width="0.8"/>
<line x1="66.50" x2="109.80" y1="181.70" y2="181.70" stroke="#999" stroke-width="0.7" stroke-dasharray="1.25,1.25"/>
<line x1="65.60" x2="66.70" y1="147.10" y2="147.10" stroke="#666" stroke-width="0.55"/>
<text transform="translate(64.30,147.10) rotate(-90)" font-size="2.9" fill="#333" font-weight="bold" text-anchor="middle">1.2</text>
<line x1="65.60" x2="66.70" y1="152.80" y2="152.80" stroke="#666" stroke-width="0.55"/>
<text transform="translate(64.30,152.80) rotate(-90)" font-size="2.9" fill="#333" font-weight="bold" text-anchor="middle">1</text>
<line x1="65.60" x2="66.70" y1="158.50" y2="158.50" stroke="#666" stroke-width="0.55"/>
<text transform="translate(64.30,158.50) rotate(-90)" font-size="2.9" fill="#333" font-weight="bold" text-anchor="middle">.8</text>
<line x1="65.60" x2="66.70" y1="164.20" y2="164.20" stroke="#666" stroke-width="0.55"/>
<text transform="translate(64.30,164.20) rotate(-90)" font-size="2.9" fill="#333" font-weight="bold" text-anchor="middle">.6</text>
<line x1="65.60" x2="66.70" y1="169.90" y2="169.90" stroke="#666" stroke-width="0.55"/>
<text transform="translate(64.30,169.90) rotate(-90)" font-size="2.9" fill="#333" font-weight="bold" text-anchor="middle">.4</text>
<line x1="65.60" x2="66.70" y1="175.60" y2="175.60" stroke="#666" stroke-width="0.55"/>
<text transform="translate(64.30,175.60) rotate(-90)" font-size="2.9" fill="#333" font-weight="bold" text-anchor="middle">.2</text>
<line x1="65.60" x2="66.70" y1="181.30" y2="181.30" stroke="#666" stroke-width="0.55"/>
<text transform="translate(64.30,181.30) rotate(-90)" font-size="2.9" fill="#333" font-weight="bold" text-anchor="middle">0</text>
<line x1="65.60" x2="66.70" y1="187.00" y2="187.00" stroke="#666" stroke-width="0.55"/>
<text transform="translate(64.30,187.00) rotate(-90)" font-size="2.9" fill="#333" font-weight="bold" text-anchor="middle">-.2</text>
<text transform="translate(61.15,166.95) rotate(-90)" font-size="3.05" fill="#333" text-anchor="middle">Predicted Δ party position</text>
<line x1="74.20" x2="74.20" y1="171.55" y2="180.95" stroke="#66667f" stroke-width="0.8"/>
<rect x="73.33" y="175.68" width="1.75" height="1.75" fill="#14149a"/>
<text x="75.70" y="177.40" font-size="2.4" fill="#333" font-weight="bold">2014</text>
<line x1="88.40" x2="88.40" y1="157.55" y2="167.85" stroke="#66667f" stroke-width="0.8"/>
<rect x="87.53" y="161.88" width="1.75" height="1.75" fill="#14149a"/>
<text x="89.90" y="163.60" font-size="2.4" fill="#333" font-weight="bold">2016</text>
<line x1="102.60" x2="102.60" y1="171.75" y2="180.45" stroke="#66667f" stroke-width="0.8"/>
<rect x="101.72" y="175.28" width="1.75" height="1.75" fill="#14149a"/>
<text x="104.10" y="177.00" font-size="2.4" fill="#333" font-weight="bold">2018</text>
<text x="146.60" y="143.60" font-size="4.2" font-weight="bold" fill="#111" stroke="#111" stroke-width="0.12" text-anchor="middle">EU</text>
<rect x="124.60" y="144.80" width="44.00" height="43.50" fill="none" stroke="#bdbdbd" stroke-width="0.8"/>
<line x1="124.60" x2="168.60" y1="181.50" y2="181.50" stroke="#999" stroke-width="0.7" stroke-dasharray="1.25,1.25"/>
<line x1="123.70" x2="124.80" y1="146.90" y2="146.90" stroke="#666" stroke-width="0.55"/>
<text transform="translate(122.40,146.90) rotate(-90)" font-size="2.9" fill="#333" font-weight="bold" text-anchor="middle">1.2</text>
<line x1="123.70" x2="124.80" y1="152.60" y2="152.60" stroke="#666" stroke-width="0.55"/>
<text transform="translate(122.40,152.60) rotate(-90)" font-size="2.9" fill="#333" font-weight="bold" text-anchor="middle">1</text>
<line x1="123.70" x2="124.80" y1="158.30" y2="158.30" stroke="#666" stroke-width="0.55"/>
<text transform="translate(122.40,158.30) rotate(-90)" font-size="2.9" fill="#333" font-weight="bold" text-anchor="middle">.8</text>
<line x1="123.70" x2="124.80" y1="164.00" y2="164.00" stroke="#666" stroke-width="0.55"/>
<text transform="translate(122.40,164.00) rotate(-90)" font-size="2.9" fill="#333" font-weight="bold" text-anchor="middle">.6</text>
<line x1="123.70" x2="124.80" y1="169.70" y2="169.70" stroke="#666" stroke-width="0.55"/>
<text transform="translate(122.40,169.70) rotate(-90)" font-size="2.9" fill="#333" font-weight="bold" text-anchor="middle">.4</text>
<line x1="123.70" x2="124.80" y1="175.40" y2="175.40" stroke="#666" stroke-width="0.55"/>
<text transform="translate(122.40,175.40) rotate(-90)" font-size="2.9" fill="#333" font-weight="bold" text-anchor="middle">.2</text>
<line x1="123.70" x2="124.80" y1="181.10" y2="181.10" stroke="#666" stroke-width="0.55"/>
<text transform="translate(122.40,181.10) rotate(-90)" font-size="2.9" fill="#333" font-weight="bold" text-anchor="middle">0</text>
<line x1="123.70" x2="124.80" y1="186.80" y2="186.80" stroke="#666" stroke-width="0.55"/>
<text transform="translate(122.40,186.80) rotate(-90)" font-size="2.9" fill="#333" font-weight="bold" text-anchor="middle">-.2</text>
<text transform="translate(119.25,166.95) rotate(-90)" font-size="3.05" fill="#333" text-anchor="middle">Predicted Δ party position</text>
<line x1="128.90" x2="128.90" y1="155.85" y2="170.85" stroke="#66667f" stroke-width="0.8"/>
<rect x="128.03" y="162.18" width="1.75" height="1.75" fill="#14149a"/>
<text x="130.40" y="163.90" font-size="2.4" fill="#333" font-weight="bold">2009</text>
<line x1="137.70" x2="137.70" y1="163.05" y2="175.25" stroke="#66667f" stroke-width="0.8"/>
<rect x="136.82" y="168.07" width="1.75" height="1.75" fill="#14149a"/>
<text x="139.20" y="169.80" font-size="2.4" fill="#333" font-weight="bold">2010</text>
<line x1="146.00" x2="146.00" y1="164.55" y2="176.45" stroke="#66667f" stroke-width="0.8"/>
<rect x="145.12" y="169.18" width="1.75" height="1.75" fill="#14149a"/>
<text x="147.50" y="170.90" font-size="2.4" fill="#333" font-weight="bold">2013</text>
<line x1="154.70" x2="154.70" y1="164.55" y2="173.65" stroke="#66667f" stroke-width="0.8"/>
<rect x="153.82" y="168.07" width="1.75" height="1.75" fill="#14149a"/>
<text x="156.20" y="169.80" font-size="2.4" fill="#333" font-weight="bold">2014</text>
<line x1="163.40" x2="163.40" y1="164.55" y2="174.65" stroke="#66667f" stroke-width="0.8"/>
<rect x="162.53" y="168.68" width="1.75" height="1.75" fill="#14149a"/>
<text x="164.90" y="170.40" font-size="2.4" fill="#333" font-weight="bold">2016</text>
<text x="30.55" y="199.70" font-size="4.2" font-weight="bold" fill="#111" stroke="#111" stroke-width="0.12" text-anchor="middle">Redistribution</text>
<rect x="9.00" y="200.90" width="43.10" height="43.20" fill="none" stroke="#bdbdbd" stroke-width="0.8"/>
<line x1="9.00" x2="52.10" y1="237.50" y2="237.50" stroke="#999" stroke-width="0.7" stroke-dasharray="1.25,1.25"/>
<line x1="8.10" x2="9.20" y1="202.90" y2="202.90" stroke="#666" stroke-width="0.55"/>
<text transform="translate(6.80,202.90) rotate(-90)" font-size="2.9" fill="#333" font-weight="bold" text-anchor="middle">1.2</text>
<line x1="8.10" x2="9.20" y1="208.60" y2="208.60" stroke="#666" stroke-width="0.55"/>
<text transform="translate(6.80,208.60) rotate(-90)" font-size="2.9" fill="#333" font-weight="bold" text-anchor="middle">1</text>
<line x1="8.10" x2="9.20" y1="214.30" y2="214.30" stroke="#666" stroke-width="0.55"/>
<text transform="translate(6.80,214.30) rotate(-90)" font-size="2.9" fill="#333" font-weight="bold" text-anchor="middle">.8</text>
<line x1="8.10" x2="9.20" y1="220.00" y2="220.00" stroke="#666" stroke-width="0.55"/>
<text transform="translate(6.80,220.00) rotate(-90)" font-size="2.9" fill="#333" font-weight="bold" text-anchor="middle">.6</text>
<line x1="8.10" x2="9.20" y1="225.70" y2="225.70" stroke="#666" stroke-width="0.55"/>
<text transform="translate(6.80,225.70) rotate(-90)" font-size="2.9" fill="#333" font-weight="bold" text-anchor="middle">.4</text>
<line x1="8.10" x2="9.20" y1="231.40" y2="231.40" stroke="#666" stroke-width="0.55"/>
<text transform="translate(6.80,231.40) rotate(-90)" font-size="2.9" fill="#333" font-weight="bold" text-anchor="middle">.2</text>
<line x1="8.10" x2="9.20" y1="237.10" y2="237.10" stroke="#666" stroke-width="0.55"/>
<text transform="translate(6.80,237.10) rotate(-90)" font-size="2.9" fill="#333" font-weight="bold" text-anchor="middle">0</text>
<line x1="8.10" x2="9.20" y1="242.80" y2="242.80" stroke="#666" stroke-width="0.55"/>
<text transform="translate(6.80,242.80) rotate(-90)" font-size="2.9" fill="#333" font-weight="bold" text-anchor="middle">-.2</text>
<text transform="translate(3.65,222.90) rotate(-90)" font-size="3.05" fill="#333" text-anchor="middle">Predicted Δ party position</text>
<line x1="16.40" x2="16.40" y1="225.55" y2="233.65" stroke="#66667f" stroke-width="0.8"/>
<rect x="15.52" y="228.88" width="1.75" height="1.75" fill="#14149a"/>
<text x="17.90" y="230.60" font-size="2.4" fill="#333" font-weight="bold">2014</text>
<line x1="30.50" x2="30.50" y1="228.85" y2="237.55" stroke="#66667f" stroke-width="0.8"/>
<rect x="29.62" y="232.38" width="1.75" height="1.75" fill="#14149a"/>
<text x="32.00" y="234.10" font-size="2.4" fill="#333" font-weight="bold">2016</text>
<line x1="44.70" x2="44.70" y1="226.65" y2="238.05" stroke="#66667f" stroke-width="0.8"/>
<rect x="43.83" y="231.28" width="1.75" height="1.75" fill="#14149a"/>
<text x="46.20" y="233.00" font-size="2.4" fill="#333" font-weight="bold">2018</text>
<text x="88.15" y="199.70" font-size="4.2" font-weight="bold" fill="#111" stroke="#111" stroke-width="0.12" text-anchor="middle">Social lifestyle</text>
<rect x="66.50" y="200.90" width="43.30" height="43.20" fill="none" stroke="#bdbdbd" stroke-width="0.8"/>
<line x1="66.50" x2="109.80" y1="237.50" y2="237.50" stroke="#999" stroke-width="0.7" stroke-dasharray="1.25,1.25"/>
<line x1="65.60" x2="66.70" y1="202.90" y2="202.90" stroke="#666" stroke-width="0.55"/>
<text transform="translate(64.30,202.90) rotate(-90)" font-size="2.9" fill="#333" font-weight="bold" text-anchor="middle">1.2</text>
<line x1="65.60" x2="66.70" y1="208.60" y2="208.60" stroke="#666" stroke-width="0.55"/>
<text transform="translate(64.30,208.60) rotate(-90)" font-size="2.9" fill="#333" font-weight="bold" text-anchor="middle">1</text>
<line x1="65.60" x2="66.70" y1="214.30" y2="214.30" stroke="#666" stroke-width="0.55"/>
<text transform="translate(64.30,214.30) rotate(-90)" font-size="2.9" fill="#333" font-weight="bold" text-anchor="middle">.8</text>
<line x1="65.60" x2="66.70" y1="220.00" y2="220.00" stroke="#666" stroke-width="0.55"/>
<text transform="translate(64.30,220.00) rotate(-90)" font-size="2.9" fill="#333" font-weight="bold" text-anchor="middle">.6</text>
<line x1="65.60" x2="66.70" y1="225.70" y2="225.70" stroke="#666" stroke-width="0.55"/>
<text transform="translate(64.30,225.70) rotate(-90)" font-size="2.9" fill="#333" font-weight="bold" text-anchor="middle">.4</text>
<line x1="65.60" x2="66.70" y1="231.40" y2="231.40" stroke="#666" stroke-width="0.55"/>
<text transform="translate(64.30,231.40) rotate(-90)" font-size="2.9" fill="#333" font-weight="bold" text-anchor="middle">.2</text>
<line x1="65.60" x2="66.70" y1="237.10" y2="237.10" stroke="#666" stroke-width="0.55"/>
<text transform="translate(64.30,237.10) rotate(-90)" font-size="2.9" fill="#333" font-weight="bold" text-anchor="middle">0</text>
<line x1="65.60" x2="66.70" y1="242.80" y2="242.80" stroke="#666" stroke-width="0.55"/>
<text transform="translate(64.30,242.80) rotate(-90)" font-size="2.9" fill="#333" font-weight="bold" text-anchor="middle">-.2</text>
<text transform="translate(61.15,222.90) rotate(-90)" font-size="3.05" fill="#333" text-anchor="middle">Predicted Δ party position</text>
<line x1="74.20" x2="74.20" y1="224.45" y2="233.65" stroke="#66667f" stroke-width="0.8"/>
<rect x="73.33" y="227.97" width="1.75" height="1.75" fill="#14149a"/>
<text x="75.70" y="229.70" font-size="2.4" fill="#333" font-weight="bold">2014</text>
<line x1="88.40" x2="88.40" y1="222.75" y2="230.85" stroke="#66667f" stroke-width="0.8"/>
<rect x="87.53" y="226.18" width="1.75" height="1.75" fill="#14149a"/>
<text x="89.90" y="227.90" font-size="2.4" fill="#333" font-weight="bold">2016</text>
<line x1="102.60" x2="102.60" y1="221.65" y2="229.75" stroke="#66667f" stroke-width="0.8"/>
<rect x="101.72" y="225.18" width="1.75" height="1.75" fill="#14149a"/>
<text x="104.10" y="226.90" font-size="2.4" fill="#333" font-weight="bold">2018</text>
<text x="146.60" y="199.70" font-size="4.2" font-weight="bold" fill="#111" stroke="#111" stroke-width="0.12" text-anchor="middle">Environment</text>
<rect x="124.60" y="200.90" width="44.00" height="43.20" fill="none" stroke="#bdbdbd" stroke-width="0.8"/>
<line x1="124.60" x2="168.60" y1="237.20" y2="237.20" stroke="#999" stroke-width="0.7" stroke-dasharray="1.25,1.25"/>
<line x1="123.70" x2="124.80" y1="202.60" y2="202.60" stroke="#666" stroke-width="0.55"/>
<text transform="translate(122.40,202.60) rotate(-90)" font-size="2.9" fill="#333" font-weight="bold" text-anchor="middle">1.2</text>
<line x1="123.70" x2="124.80" y1="208.30" y2="208.30" stroke="#666" stroke-width="0.55"/>
<text transform="translate(122.40,208.30) rotate(-90)" font-size="2.9" fill="#333" font-weight="bold" text-anchor="middle">1</text>
<line x1="123.70" x2="124.80" y1="214.00" y2="214.00" stroke="#666" stroke-width="0.55"/>
<text transform="translate(122.40,214.00) rotate(-90)" font-size="2.9" fill="#333" font-weight="bold" text-anchor="middle">.8</text>
<line x1="123.70" x2="124.80" y1="219.70" y2="219.70" stroke="#666" stroke-width="0.55"/>
<text transform="translate(122.40,219.70) rotate(-90)" font-size="2.9" fill="#333" font-weight="bold" text-anchor="middle">.6</text>
<line x1="123.70" x2="124.80" y1="225.40" y2="225.40" stroke="#666" stroke-width="0.55"/>
<text transform="translate(122.40,225.40) rotate(-90)" font-size="2.9" fill="#333" font-weight="bold" text-anchor="middle">.4</text>
<line x1="123.70" x2="124.80" y1="231.10" y2="231.10" stroke="#666" stroke-width="0.55"/>
<text transform="translate(122.40,231.10) rotate(-90)" font-size="2.9" fill="#333" font-weight="bold" text-anchor="middle">.2</text>
<line x1="123.70" x2="124.80" y1="236.80" y2="236.80" stroke="#666" stroke-width="0.55"/>
<text transform="translate(122.40,236.80) rotate(-90)" font-size="2.9" fill="#333" font-weight="bold" text-anchor="middle">0</text>
<line x1="123.70" x2="124.80" y1="242.50" y2="242.50" stroke="#666" stroke-width="0.55"/>
<text transform="translate(122.40,242.50) rotate(-90)" font-size="2.9" fill="#333" font-weight="bold" text-anchor="middle">-.2</text>
<text transform="translate(119.25,222.90) rotate(-90)" font-size="3.05" fill="#333" text-anchor="middle">Predicted Δ party position</text>
<line x1="135.10" x2="135.10" y1="220.25" y2="233.55" stroke="#66667f" stroke-width="0.8"/>
<rect x="134.22" y="226.38" width="1.75" height="1.75" fill="#14149a"/>
<text x="136.60" y="228.10" font-size="2.4" fill="#333" font-weight="bold">2016</text>
<line x1="156.60" x2="156.60" y1="215.95" y2="227.95" stroke="#66667f" stroke-width="0.8"/>
<rect x="155.72" y="220.97" width="1.75" height="1.75" fill="#14149a"/>
<text x="158.10" y="222.70" font-size="2.4" fill="#333" font-weight="bold">2018</text>
<text x="176.00" y="132.80" font-size="7.0" fill="#222">(D)</text>
<text x="268.00" y="134.30" font-size="6.4" fill="#222" stroke="#222" stroke-width="0.1" text-anchor="middle">Δ Non-supporter</text>
<text x="350.50" y="251.20" font-size="2.7" fill="#3a3a3a" text-anchor="end">95% CIs</text>
<text x="210.00" y="143.60" font-size="4.2" font-weight="bold" fill="#111" stroke="#111" stroke-width="0.12" text-anchor="middle">Left-right</text>
<rect x="188.50" y="144.80" width="43.00" height="43.50" fill="none" stroke="#bdbdbd" stroke-width="0.8"/>
<line x1="188.50" x2="231.50" y1="158.10" y2="158.10" stroke="#999" stroke-width="0.7" stroke-dasharray="1.25,1.25"/>
<line x1="187.60" x2="188.70" y1="148.00" y2="148.00" stroke="#666" stroke-width="0.55"/>
<text transform="translate(186.30,148.00) rotate(-90)" font-size="2.9" fill="#333" font-weight="bold" text-anchor="middle">.4</text>
<line x1="187.60" x2="188.70" y1="152.85" y2="152.85" stroke="#666" stroke-width="0.55"/>
<text transform="translate(186.30,152.85) rotate(-90)" font-size="2.9" fill="#333" font-weight="bold" text-anchor="middle">.2</text>
<line x1="187.60" x2="188.70" y1="157.70" y2="157.70" stroke="#666" stroke-width="0.55"/>
<text transform="translate(186.30,157.70) rotate(-90)" font-size="2.9" fill="#333" font-weight="bold" text-anchor="middle">0</text>
<line x1="187.60" x2="188.70" y1="162.55" y2="162.55" stroke="#666" stroke-width="0.55"/>
<text transform="translate(186.30,162.55) rotate(-90)" font-size="2.9" fill="#333" font-weight="bold" text-anchor="middle">-.2</text>
<line x1="187.60" x2="188.70" y1="167.40" y2="167.40" stroke="#666" stroke-width="0.55"/>
<text transform="translate(186.30,167.40) rotate(-90)" font-size="2.9" fill="#333" font-weight="bold" text-anchor="middle">-.4</text>
<line x1="187.60" x2="188.70" y1="172.25" y2="172.25" stroke="#666" stroke-width="0.55"/>
<text transform="translate(186.30,172.25) rotate(-90)" font-size="2.9" fill="#333" font-weight="bold" text-anchor="middle">-.6</text>
<line x1="187.60" x2="188.70" y1="177.10" y2="177.10" stroke="#666" stroke-width="0.55"/>
<text transform="translate(186.30,177.10) rotate(-90)" font-size="2.9" fill="#333" font-weight="bold" text-anchor="middle">-.8</text>
<line x1="187.60" x2="188.70" y1="181.95" y2="181.95" stroke="#666" stroke-width="0.55"/>
<text transform="translate(186.30,181.95) rotate(-90)" font-size="2.9" fill="#333" font-weight="bold" text-anchor="middle">-1</text>
<line x1="187.60" x2="188.70" y1="186.80" y2="186.80" stroke="#666" stroke-width="0.55"/>
<text transform="translate(186.30,186.80) rotate(-90)" font-size="2.9" fill="#333" font-weight="bold" text-anchor="middle">-1.2</text>
<text transform="translate(183.15,166.95) rotate(-90)" font-size="3.05" fill="#333" text-anchor="middle">Predicted Δ party position</text>
<line x1="192.80" x2="192.80" y1="163.05" y2="178.25" stroke="#66667f" stroke-width="0.8"/>
<rect x="191.93" y="170.18" width="1.75" height="1.75" fill="#14149a"/>
<text x="194.30" y="171.90" font-size="2.4" fill="#333" font-weight="bold">2009</text>
<line x1="201.60" x2="201.60" y1="159.75" y2="167.15" stroke="#66667f" stroke-width="0.8"/>
<rect x="200.72" y="162.18" width="1.75" height="1.75" fill="#14149a"/>
<text x="203.10" y="163.90" font-size="2.4" fill="#333" font-weight="bold">2010</text>
<line x1="209.90" x2="209.90" y1="153.65" y2="164.95" stroke="#66667f" stroke-width="0.8"/>
<rect x="209.03" y="157.78" width="1.75" height="1.75" fill="#14149a"/>
<text x="211.40" y="159.50" font-size="2.4" fill="#333" font-weight="bold">2013</text>
<line x1="218.60" x2="218.60" y1="157.55" y2="163.85" stroke="#66667f" stroke-width="0.8"/>
<rect x="217.72" y="159.28" width="1.75" height="1.75" fill="#14149a"/>
<text x="220.10" y="161.00" font-size="2.4" fill="#333" font-weight="bold">2014</text>
<line x1="227.30" x2="227.30" y1="147.05" y2="160.15" stroke="#66667f" stroke-width="0.8"/>
<rect x="226.43" y="153.38" width="1.75" height="1.75" fill="#14149a"/>
<text x="228.80" y="155.10" font-size="2.4" fill="#333" font-weight="bold">2016</text>
<text x="268.05" y="143.60" font-size="4.2" font-weight="bold" fill="#111" stroke="#111" stroke-width="0.12" text-anchor="middle">Immigration</text>
<rect x="246.10" y="144.80" width="43.90" height="43.50" fill="none" stroke="#bdbdbd" stroke-width="0.8"/>
<line x1="246.10" x2="290.00" y1="157.70" y2="157.70" stroke="#999" stroke-width="0.7" stroke-dasharray="1.25,1.25"/>
<line x1="245.20" x2="246.30" y1="147.60" y2="147.60" stroke="#666" stroke-width="0.55"/>
<text transform="translate(243.90,147.60) rotate(-90)" font-size="2.9" fill="#333" font-weight="bold" text-anchor="middle">.4</text>
<line x1="245.20" x2="246.30" y1="152.45" y2="152.45" stroke="#666" stroke-width="0.55"/>
<text transform="translate(243.90,152.45) rotate(-90)" font-size="2.9" fill="#333" font-weight="bold" text-anchor="middle">.2</text>
<line x1="245.20" x2="246.30" y1="157.30" y2="157.30" stroke="#666" stroke-width="0.55"/>
<text transform="translate(243.90,157.30) rotate(-90)" font-size="2.9" fill="#333" font-weight="bold" text-anchor="middle">0</text>
<line x1="245.20" x2="246.30" y1="162.15" y2="162.15" stroke="#666" stroke-width="0.55"/>
<text transform="translate(243.90,162.15) rotate(-90)" font-size="2.9" fill="#333" font-weight="bold" text-anchor="middle">-.2</text>
<line x1="245.20" x2="246.30" y1="167.00" y2="167.00" stroke="#666" stroke-width="0.55"/>
<text transform="translate(243.90,167.00) rotate(-90)" font-size="2.9" fill="#333" font-weight="bold" text-anchor="middle">-.4</text>
<line x1="245.20" x2="246.30" y1="171.85" y2="171.85" stroke="#666" stroke-width="0.55"/>
<text transform="translate(243.90,171.85) rotate(-90)" font-size="2.9" fill="#333" font-weight="bold" text-anchor="middle">-.6</text>
<line x1="245.20" x2="246.30" y1="176.70" y2="176.70" stroke="#666" stroke-width="0.55"/>
<text transform="translate(243.90,176.70) rotate(-90)" font-size="2.9" fill="#333" font-weight="bold" text-anchor="middle">-.8</text>
<line x1="245.20" x2="246.30" y1="181.55" y2="181.55" stroke="#666" stroke-width="0.55"/>
<text transform="translate(243.90,181.55) rotate(-90)" font-size="2.9" fill="#333" font-weight="bold" text-anchor="middle">-1</text>
<line x1="245.20" x2="246.30" y1="186.40" y2="186.40" stroke="#666" stroke-width="0.55"/>
<text transform="translate(243.90,186.40) rotate(-90)" font-size="2.9" fill="#333" font-weight="bold" text-anchor="middle">-1.2</text>
<text transform="translate(240.75,166.95) rotate(-90)" font-size="3.05" fill="#333" text-anchor="middle">Predicted Δ party position</text>
<line x1="253.50" x2="253.50" y1="157.95" y2="167.85" stroke="#66667f" stroke-width="0.8"/>
<rect x="252.62" y="161.88" width="1.75" height="1.75" fill="#14149a"/>
<text x="255.00" y="163.60" font-size="2.4" fill="#333" font-weight="bold">2014</text>
<line x1="267.70" x2="267.70" y1="147.05" y2="157.35" stroke="#66667f" stroke-width="0.8"/>
<rect x="266.82" y="152.07" width="1.75" height="1.75" fill="#14149a"/>
<text x="269.20" y="153.80" font-size="2.4" fill="#333" font-weight="bold">2016</text>
<line x1="282.10" x2="282.10" y1="151.45" y2="166.05" stroke="#66667f" stroke-width="0.8"/>
<rect x="281.23" y="157.57" width="1.75" height="1.75" fill="#14149a"/>
<text x="283.60" y="159.30" font-size="2.4" fill="#333" font-weight="bold">2018</text>
<text x="325.80" y="143.60" font-size="4.2" font-weight="bold" fill="#111" stroke="#111" stroke-width="0.12" text-anchor="middle">EU</text>
<rect x="304.20" y="144.80" width="43.20" height="43.50" fill="none" stroke="#bdbdbd" stroke-width="0.8"/>
<line x1="304.20" x2="347.40" y1="158.10" y2="158.10" stroke="#999" stroke-width="0.7" stroke-dasharray="1.25,1.25"/>
<line x1="303.30" x2="304.40" y1="148.00" y2="148.00" stroke="#666" stroke-width="0.55"/>
<text transform="translate(302.00,148.00) rotate(-90)" font-size="2.9" fill="#333" font-weight="bold" text-anchor="middle">.4</text>
<line x1="303.30" x2="304.40" y1="152.85" y2="152.85" stroke="#666" stroke-width="0.55"/>
<text transform="translate(302.00,152.85) rotate(-90)" font-size="2.9" fill="#333" font-weight="bold" text-anchor="middle">.2</text>
<line x1="303.30" x2="304.40" y1="157.70" y2="157.70" stroke="#666" stroke-width="0.55"/>
<text transform="translate(302.00,157.70) rotate(-90)" font-size="2.9" fill="#333" font-weight="bold" text-anchor="middle">0</text>
<line x1="303.30" x2="304.40" y1="162.55" y2="162.55" stroke="#666" stroke-width="0.55"/>
<text transform="translate(302.00,162.55) rotate(-90)" font-size="2.9" fill="#333" font-weight="bold" text-anchor="middle">-.2</text>
<line x1="303.30" x2="304.40" y1="167.40" y2="167.40" stroke="#666" stroke-width="0.55"/>
<text transform="translate(302.00,167.40) rotate(-90)" font-size="2.9" fill="#333" font-weight="bold" text-anchor="middle">-.4</text>
<line x1="303.30" x2="304.40" y1="172.25" y2="172.25" stroke="#666" stroke-width="0.55"/>
<text transform="translate(302.00,172.25) rotate(-90)" font-size="2.9" fill="#333" font-weight="bold" text-anchor="middle">-.6</text>
<line x1="303.30" x2="304.40" y1="177.10" y2="177.10" stroke="#666" stroke-width="0.55"/>
<text transform="translate(302.00,177.10) rotate(-90)" font-size="2.9" fill="#333" font-weight="bold" text-anchor="middle">-.8</text>
<line x1="303.30" x2="304.40" y1="181.95" y2="181.95" stroke="#666" stroke-width="0.55"/>
<text transform="translate(302.00,181.95) rotate(-90)" font-size="2.9" fill="#333" font-weight="bold" text-anchor="middle">-1</text>
<line x1="303.30" x2="304.40" y1="186.80" y2="186.80" stroke="#666" stroke-width="0.55"/>
<text transform="translate(302.00,186.80) rotate(-90)" font-size="2.9" fill="#333" font-weight="bold" text-anchor="middle">-1.2</text>
<text transform="translate(298.85,166.95) rotate(-90)" font-size="3.05" fill="#333" text-anchor="middle">Predicted Δ party position</text>
<line x1="308.50" x2="308.50" y1="148.65" y2="167.85" stroke="#66667f" stroke-width="0.8"/>
<rect x="307.62" y="157.07" width="1.75" height="1.75" fill="#14149a"/>
<text x="310.00" y="158.80" font-size="2.4" fill="#333" font-weight="bold">2009</text>
<line x1="317.20" x2="317.20" y1="150.35" y2="166.75" stroke="#66667f" stroke-width="0.8"/>
<rect x="316.32" y="157.57" width="1.75" height="1.75" fill="#14149a"/>
<text x="318.70" y="159.30" font-size="2.4" fill="#333" font-weight="bold">2010</text>
<line x1="325.70" x2="325.70" y1="151.45" y2="168.95" stroke="#66667f" stroke-width="0.8"/>
<rect x="324.82" y="158.68" width="1.75" height="1.75" fill="#14149a"/>
<text x="327.20" y="160.40" font-size="2.4" fill="#333" font-weight="bold">2013</text>
<line x1="334.50" x2="334.50" y1="150.35" y2="166.25" stroke="#66667f" stroke-width="0.8"/>
<rect x="333.62" y="157.07" width="1.75" height="1.75" fill="#14149a"/>
<text x="336.00" y="158.80" font-size="2.4" fill="#333" font-weight="bold">2014</text>
<line x1="343.20" x2="343.20" y1="157.95" y2="173.95" stroke="#66667f" stroke-width="0.8"/>
<rect x="342.32" y="164.78" width="1.75" height="1.75" fill="#14149a"/>
<text x="344.70" y="166.50" font-size="2.4" fill="#333" font-weight="bold">2016</text>
<text x="210.00" y="199.70" font-size="4.2" font-weight="bold" fill="#111" stroke="#111" stroke-width="0.12" text-anchor="middle">Redistribution</text>
<rect x="188.50" y="200.90" width="43.00" height="43.20" fill="none" stroke="#bdbdbd" stroke-width="0.8"/>
<line x1="188.50" x2="231.50" y1="213.10" y2="213.10" stroke="#999" stroke-width="0.7" stroke-dasharray="1.25,1.25"/>
<line x1="187.60" x2="188.70" y1="203.00" y2="203.00" stroke="#666" stroke-width="0.55"/>
<text transform="translate(186.30,203.00) rotate(-90)" font-size="2.9" fill="#333" font-weight="bold" text-anchor="middle">.4</text>
<line x1="187.60" x2="188.70" y1="207.85" y2="207.85" stroke="#666" stroke-width="0.55"/>
<text transform="translate(186.30,207.85) rotate(-90)" font-size="2.9" fill="#333" font-weight="bold" text-anchor="middle">.2</text>
<line x1="187.60" x2="188.70" y1="212.70" y2="212.70" stroke="#666" stroke-width="0.55"/>
<text transform="translate(186.30,212.70) rotate(-90)" font-size="2.9" fill="#333" font-weight="bold" text-anchor="middle">0</text>
<line x1="187.60" x2="188.70" y1="217.55" y2="217.55" stroke="#666" stroke-width="0.55"/>
<text transform="translate(186.30,217.55) rotate(-90)" font-size="2.9" fill="#333" font-weight="bold" text-anchor="middle">-.2</text>
<line x1="187.60" x2="188.70" y1="222.40" y2="222.40" stroke="#666" stroke-width="0.55"/>
<text transform="translate(186.30,222.40) rotate(-90)" font-size="2.9" fill="#333" font-weight="bold" text-anchor="middle">-.4</text>
<line x1="187.60" x2="188.70" y1="227.25" y2="227.25" stroke="#666" stroke-width="0.55"/>
<text transform="translate(186.30,227.25) rotate(-90)" font-size="2.9" fill="#333" font-weight="bold" text-anchor="middle">-.6</text>
<line x1="187.60" x2="188.70" y1="232.10" y2="232.10" stroke="#666" stroke-width="0.55"/>
<text transform="translate(186.30,232.10) rotate(-90)" font-size="2.9" fill="#333" font-weight="bold" text-anchor="middle">-.8</text>
<line x1="187.60" x2="188.70" y1="236.95" y2="236.95" stroke="#666" stroke-width="0.55"/>
<text transform="translate(186.30,236.95) rotate(-90)" font-size="2.9" fill="#333" font-weight="bold" text-anchor="middle">-1</text>
<line x1="187.60" x2="188.70" y1="241.80" y2="241.80" stroke="#666" stroke-width="0.55"/>
<text transform="translate(186.30,241.80) rotate(-90)" font-size="2.9" fill="#333" font-weight="bold" text-anchor="middle">-1.2</text>
<text transform="translate(183.15,222.90) rotate(-90)" font-size="3.05" fill="#333" text-anchor="middle">Predicted Δ party position</text>
<line x1="195.40" x2="195.40" y1="208.55" y2="217.25" stroke="#66667f" stroke-width="0.8"/>
<rect x="194.53" y="212.07" width="1.75" height="1.75" fill="#14149a"/>
<text x="196.90" y="213.80" font-size="2.4" fill="#333" font-weight="bold">2014</text>
<line x1="209.60" x2="209.60" y1="207.45" y2="217.75" stroke="#66667f" stroke-width="0.8"/>
<rect x="208.72" y="212.07" width="1.75" height="1.75" fill="#14149a"/>
<text x="211.10" y="213.80" font-size="2.4" fill="#333" font-weight="bold">2016</text>
<line x1="224.00" x2="224.00" y1="212.95" y2="231.85" stroke="#66667f" stroke-width="0.8"/>
<rect x="223.12" y="221.38" width="1.75" height="1.75" fill="#14149a"/>
<text x="225.50" y="223.10" font-size="2.4" fill="#333" font-weight="bold">2018</text>
<text x="268.05" y="199.70" font-size="4.2" font-weight="bold" fill="#111" stroke="#111" stroke-width="0.12" text-anchor="middle">Social lifestyle</text>
<rect x="246.10" y="200.90" width="43.90" height="43.20" fill="none" stroke="#bdbdbd" stroke-width="0.8"/>
<line x1="246.10" x2="290.00" y1="213.10" y2="213.10" stroke="#999" stroke-width="0.7" stroke-dasharray="1.25,1.25"/>
<line x1="245.20" x2="246.30" y1="203.00" y2="203.00" stroke="#666" stroke-width="0.55"/>
<text transform="translate(243.90,203.00) rotate(-90)" font-size="2.9" fill="#333" font-weight="bold" text-anchor="middle">.4</text>
<line x1="245.20" x2="246.30" y1="207.85" y2="207.85" stroke="#666" stroke-width="0.55"/>
<text transform="translate(243.90,207.85) rotate(-90)" font-size="2.9" fill="#333" font-weight="bold" text-anchor="middle">.2</text>
<line x1="245.20" x2="246.30" y1="212.70" y2="212.70" stroke="#666" stroke-width="0.55"/>
<text transform="translate(243.90,212.70) rotate(-90)" font-size="2.9" fill="#333" font-weight="bold" text-anchor="middle">0</text>
<line x1="245.20" x2="246.30" y1="217.55" y2="217.55" stroke="#666" stroke-width="0.55"/>
<text transform="translate(243.90,217.55) rotate(-90)" font-size="2.9" fill="#333" font-weight="bold" text-anchor="middle">-.2</text>
<line x1="245.20" x2="246.30" y1="222.40" y2="222.40" stroke="#666" stroke-width="0.55"/>
<text transform="translate(243.90,222.40) rotate(-90)" font-size="2.9" fill="#333" font-weight="bold" text-anchor="middle">-.4</text>
<line x1="245.20" x2="246.30" y1="227.25" y2="227.25" stroke="#666" stroke-width="0.55"/>
<text transform="translate(243.90,227.25) rotate(-90)" font-size="2.9" fill="#333" font-weight="bold" text-anchor="middle">-.6</text>
<line x1="245.20" x2="246.30" y1="232.10" y2="232.10" stroke="#666" stroke-width="0.55"/>
<text transform="translate(243.90,232.10) rotate(-90)" font-size="2.9" fill="#333" font-weight="bold" text-anchor="middle">-.8</text>
<line x1="245.20" x2="246.30" y1="236.95" y2="236.95" stroke="#666" stroke-width="0.55"/>
<text transform="translate(243.90,236.95) rotate(-90)" font-size="2.9" fill="#333" font-weight="bold" text-anchor="middle">-1</text>
<line x1="245.20" x2="246.30" y1="241.80" y2="241.80" stroke="#666" stroke-width="0.55"/>
<text transform="translate(243.90,241.80) rotate(-90)" font-size="2.9" fill="#333" font-weight="bold" text-anchor="middle">-1.2</text>
<text transform="translate(240.75,222.90) rotate(-90)" font-size="3.05" fill="#333" text-anchor="middle">Predicted Δ party position</text>
<line x1="253.50" x2="253.50" y1="208.95" y2="219.85" stroke="#66667f" stroke-width="0.8"/>
<rect x="252.62" y="213.07" width="1.75" height="1.75" fill="#14149a"/>
<text x="255.00" y="214.80" font-size="2.4" fill="#333" font-weight="bold">2014</text>
<line x1="267.70" x2="267.70" y1="208.95" y2="216.15" stroke="#66667f" stroke-width="0.8"/>
<rect x="266.82" y="212.07" width="1.75" height="1.75" fill="#14149a"/>
<text x="269.20" y="213.80" font-size="2.4" fill="#333" font-weight="bold">2016</text>
<line x1="282.10" x2="282.10" y1="211.85" y2="223.85" stroke="#66667f" stroke-width="0.8"/>
<rect x="281.23" y="217.07" width="1.75" height="1.75" fill="#14149a"/>
<text x="283.60" y="218.80" font-size="2.4" fill="#333" font-weight="bold">2018</text>
<text x="325.80" y="199.70" font-size="4.2" font-weight="bold" fill="#111" stroke="#111" stroke-width="0.12" text-anchor="middle">Environment</text>
<rect x="304.20" y="200.90" width="43.20" height="43.20" fill="none" stroke="#bdbdbd" stroke-width="0.8"/>
<line x1="304.20" x2="347.40" y1="213.30" y2="213.30" stroke="#999" stroke-width="0.7" stroke-dasharray="1.25,1.25"/>
<line x1="303.30" x2="304.40" y1="203.20" y2="203.20" stroke="#666" stroke-width="0.55"/>
<text transform="translate(302.00,203.20) rotate(-90)" font-size="2.9" fill="#333" font-weight="bold" text-anchor="middle">.4</text>
<line x1="303.30" x2="304.40" y1="208.05" y2="208.05" stroke="#666" stroke-width="0.55"/>
<text transform="translate(302.00,208.05) rotate(-90)" font-size="2.9" fill="#333" font-weight="bold" text-anchor="middle">.2</text>
<line x1="303.30" x2="304.40" y1="212.90" y2="212.90" stroke="#666" stroke-width="0.55"/>
<text transform="translate(302.00,212.90) rotate(-90)" font-size="2.9" fill="#333" font-weight="bold" text-anchor="middle">0</text>
<line x1="303.30" x2="304.40" y1="217.75" y2="217.75" stroke="#666" stroke-width="0.55"/>
<text transform="translate(302.00,217.75) rotate(-90)" font-size="2.9" fill="#333" font-weight="bold" text-anchor="middle">-.2</text>
<line x1="303.30" x2="304.40" y1="222.60" y2="222.60" stroke="#666" stroke-width="0.55"/>
<text transform="translate(302.00,222.60) rotate(-90)" font-size="2.9" fill="#333" font-weight="bold" text-anchor="middle">-.4</text>
<line x1="303.30" x2="304.40" y1="227.45" y2="227.45" stroke="#666" stroke-width="0.55"/>
<text transform="translate(302.00,227.45) rotate(-90)" font-size="2.9" fill="#333" font-weight="bold" text-anchor="middle">-.6</text>
<line x1="303.30" x2="304.40" y1="232.30" y2="232.30" stroke="#666" stroke-width="0.55"/>
<text transform="translate(302.00,232.30) rotate(-90)" font-size="2.9" fill="#333" font-weight="bold" text-anchor="middle">-.8</text>
<line x1="303.30" x2="304.40" y1="237.15" y2="237.15" stroke="#666" stroke-width="0.55"/>
<text transform="translate(302.00,237.15) rotate(-90)" font-size="2.9" fill="#333" font-weight="bold" text-anchor="middle">-1</text>
<line x1="303.30" x2="304.40" y1="242.00" y2="242.00" stroke="#666" stroke-width="0.55"/>
<text transform="translate(302.00,242.00) rotate(-90)" font-size="2.9" fill="#333" font-weight="bold" text-anchor="middle">-1.2</text>
<text transform="translate(298.85,222.90) rotate(-90)" font-size="3.05" fill="#333" text-anchor="middle">Predicted Δ party position</text>
<line x1="314.90" x2="314.90" y1="215.45" y2="227.95" stroke="#66667f" stroke-width="0.8"/>
<rect x="314.02" y="220.47" width="1.75" height="1.75" fill="#14149a"/>
<text x="316.40" y="222.20" font-size="2.4" fill="#333" font-weight="bold">2016</text>
<line x1="336.20" x2="336.20" y1="220.25" y2="234.95" stroke="#66667f" stroke-width="0.8"/>
<rect x="335.32" y="226.78" width="1.75" height="1.75" fill="#14149a"/>
<text x="337.70" y="228.50" font-size="2.4" fill="#333" font-weight="bold">2018</text>
</svg></body></html>
